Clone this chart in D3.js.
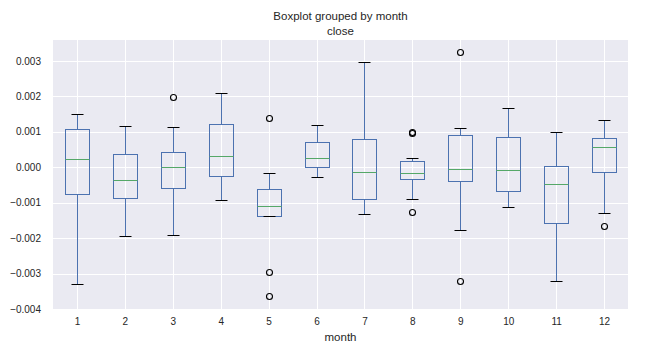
<!DOCTYPE html>
<html>
<head>
<meta charset="utf-8">
<script src="https://cdn.jsdelivr.net/npm/d3@7"></script>
<style>
  body { margin: 0; background: #fff; }
  text { font-family: "Liberation Sans", Arial, sans-serif; fill: #262626; }
</style>
</head>
<body>
<div id="chart"></div>
<script>
const months = [1, 2, 3, 4, 5, 6, 7, 8, 9, 10, 11, 12];
const whiskerHi = [0.00150, 0.00116, 0.00113, 0.00209, -0.00016, 0.00119, 0.00296, 0.00026, 0.00111, 0.00167, 0.00100, 0.00133];
const q3 = [0.00108, 0.00038, 0.00042, 0.00122, -0.00061, 0.00071, 0.00080, 0.00018, 0.00091, 0.00085, 0.00004, 0.00083];
const medians = [0.00024, -0.00035, 0.00001, 0.00032, -0.00110, 0.00026, -0.00013, -0.00016, -0.00005, -0.00007, -0.00047, 0.00057];
const q1 = [-0.00075, -0.00086, -0.00058, -0.00024, -0.00137, 0.00001, -0.00089, -0.00033, -0.00038, -0.00066, -0.00156, -0.00013];
const whiskerLo = [-0.00330, -0.00193, -0.00190, -0.00092, -0.00139, -0.00027, -0.00131, -0.00089, -0.00176, -0.00111, -0.00322, -0.00128];
const outlierMonth = [3, 5, 5, 5, 8, 8, 8, 9, 9, 12];
const outlierValue = [0.00198, 0.00139, -0.00297, -0.00362, 0.00099, 0.00098, -0.00125, 0.00324, -0.00322, -0.00165];
const yTicks = [0.003, 0.002, 0.001, 0.000, -0.001, -0.002, -0.003, -0.004];

const W = 648, H = 354;
const margin = {top: 40, right: 20, bottom: 45, left: 53};
const width = W - margin.left - margin.right,
      height = H - margin.top - margin.bottom;

const boxColor = "#4C72B0", medColor = "#55A868";

const svg = d3.select("#chart").append("svg")
    .attr("width", W).attr("height", H);

const g = svg.append("g")
    .attr("transform", `translate(${margin.left},${margin.top})`);

const x = d3.scaleLinear().domain([0.5, 12.5]).range([0, width]);
const y = d3.scaleLinear().domain([-0.004, 0.00359]).range([height, 0]);
const step = x(2) - x(1);
// snap to pixel centres so 1px lines stay crisp
const px = v => Math.round(v) + 0.5;

g.append("rect")
    .attr("width", width).attr("height", height)
    .attr("fill", "#EAEAF2");

// grid
g.append("g").selectAll("line").data(yTicks).join("line")
    .attr("x1", 0).attr("x2", width)
    .attr("y1", d => px(y(d))).attr("y2", d => px(y(d)))
    .attr("stroke", "#fff").attr("stroke-width", 1);
g.append("g").selectAll("line").data(months).join("line")
    .attr("x1", d => px(x(d))).attr("x2", d => px(x(d)))
    .attr("y1", 0).attr("y2", height)
    .attr("stroke", "#fff").attr("stroke-width", 1);

// axes
const fmt = d => d3.format(".3f")(d).replace("-", "\u2212");
const yAxis = g.append("g")
    .call(d3.axisLeft(y).tickValues(yTicks).tickFormat(fmt).tickSize(0).tickPadding(12));
yAxis.select(".domain").remove();
yAxis.selectAll("text").attr("font-size", "10px").style("font-family", "Liberation Sans, Arial, sans-serif").attr("fill", "#262626");

const xAxis = g.append("g")
    .attr("transform", `translate(0,${height})`)
    .call(d3.axisBottom(x).tickValues(months).tickFormat(d3.format("d")).tickSize(0).tickPadding(9));
xAxis.select(".domain").remove();
xAxis.selectAll("text").attr("font-size", "10px").style("font-family", "Liberation Sans, Arial, sans-serif").attr("fill", "#262626");

// boxes
const stats = months.map((m, i) => ({m, hi: whiskerHi[i], q3: q3[i], med: medians[i], q1: q1[i], lo: whiskerLo[i]}));
const bw = step * 0.5, cw = step * 0.25;
const box = g.append("g").selectAll("g").data(stats).join("g");

box.append("line")
    .attr("x1", d => px(x(d.m))).attr("x2", d => px(x(d.m)))
    .attr("y1", d => px(y(d.hi))).attr("y2", d => px(y(d.q3)))
    .attr("stroke", boxColor);
box.append("line")
    .attr("x1", d => px(x(d.m))).attr("x2", d => px(x(d.m)))
    .attr("y1", d => px(y(d.q1))).attr("y2", d => px(y(d.lo)))
    .attr("stroke", boxColor);
box.append("rect")
    .attr("x", d => px(x(d.m) - bw / 2)).attr("width", Math.round(bw))
    .attr("y", d => px(y(d.q3))).attr("height", d => Math.round(y(d.q1)) - Math.round(y(d.q3)))
    .attr("fill", "none").attr("stroke", boxColor);
box.append("line")
    .attr("x1", d => px(x(d.m) - bw / 2)).attr("x2", d => px(x(d.m) - bw / 2) + Math.round(bw))
    .attr("y1", d => px(y(d.med))).attr("y2", d => px(y(d.med)))
    .attr("stroke", medColor);
box.append("line")
    .attr("x1", d => px(x(d.m) - cw / 2)).attr("x2", d => px(x(d.m) + cw / 2))
    .attr("y1", d => px(y(d.hi))).attr("y2", d => px(y(d.hi)))
    .attr("stroke", "#000");
box.append("line")
    .attr("x1", d => px(x(d.m) - cw / 2)).attr("x2", d => px(x(d.m) + cw / 2))
    .attr("y1", d => px(y(d.lo))).attr("y2", d => px(y(d.lo)))
    .attr("stroke", "#000");

// fliers
g.append("g").selectAll("circle").data(outlierMonth.map((m, i) => [m, outlierValue[i]])).join("circle")
    .attr("cx", d => px(x(d[0]))).attr("cy", d => px(y(d[1])))
    .attr("r", 3).attr("fill", "none").attr("stroke", "#000").attr("stroke-width", 1.1);

// titles
svg.append("text")
    .attr("x", margin.left + width / 2).attr("y", 20)
    .attr("text-anchor", "middle").attr("font-size", "11.5px")
    .text("Boxplot grouped by month");
svg.append("text")
    .attr("x", margin.left + width / 2).attr("y", 35)
    .attr("text-anchor", "middle").attr("font-size", "11.5px")
    .text("close");
svg.append("text")
    .attr("x", margin.left + width / 2).attr("y", 341)
    .attr("text-anchor", "middle").attr("font-size", "11.5px")
    .text("month");
</script>
</body>
</html>
